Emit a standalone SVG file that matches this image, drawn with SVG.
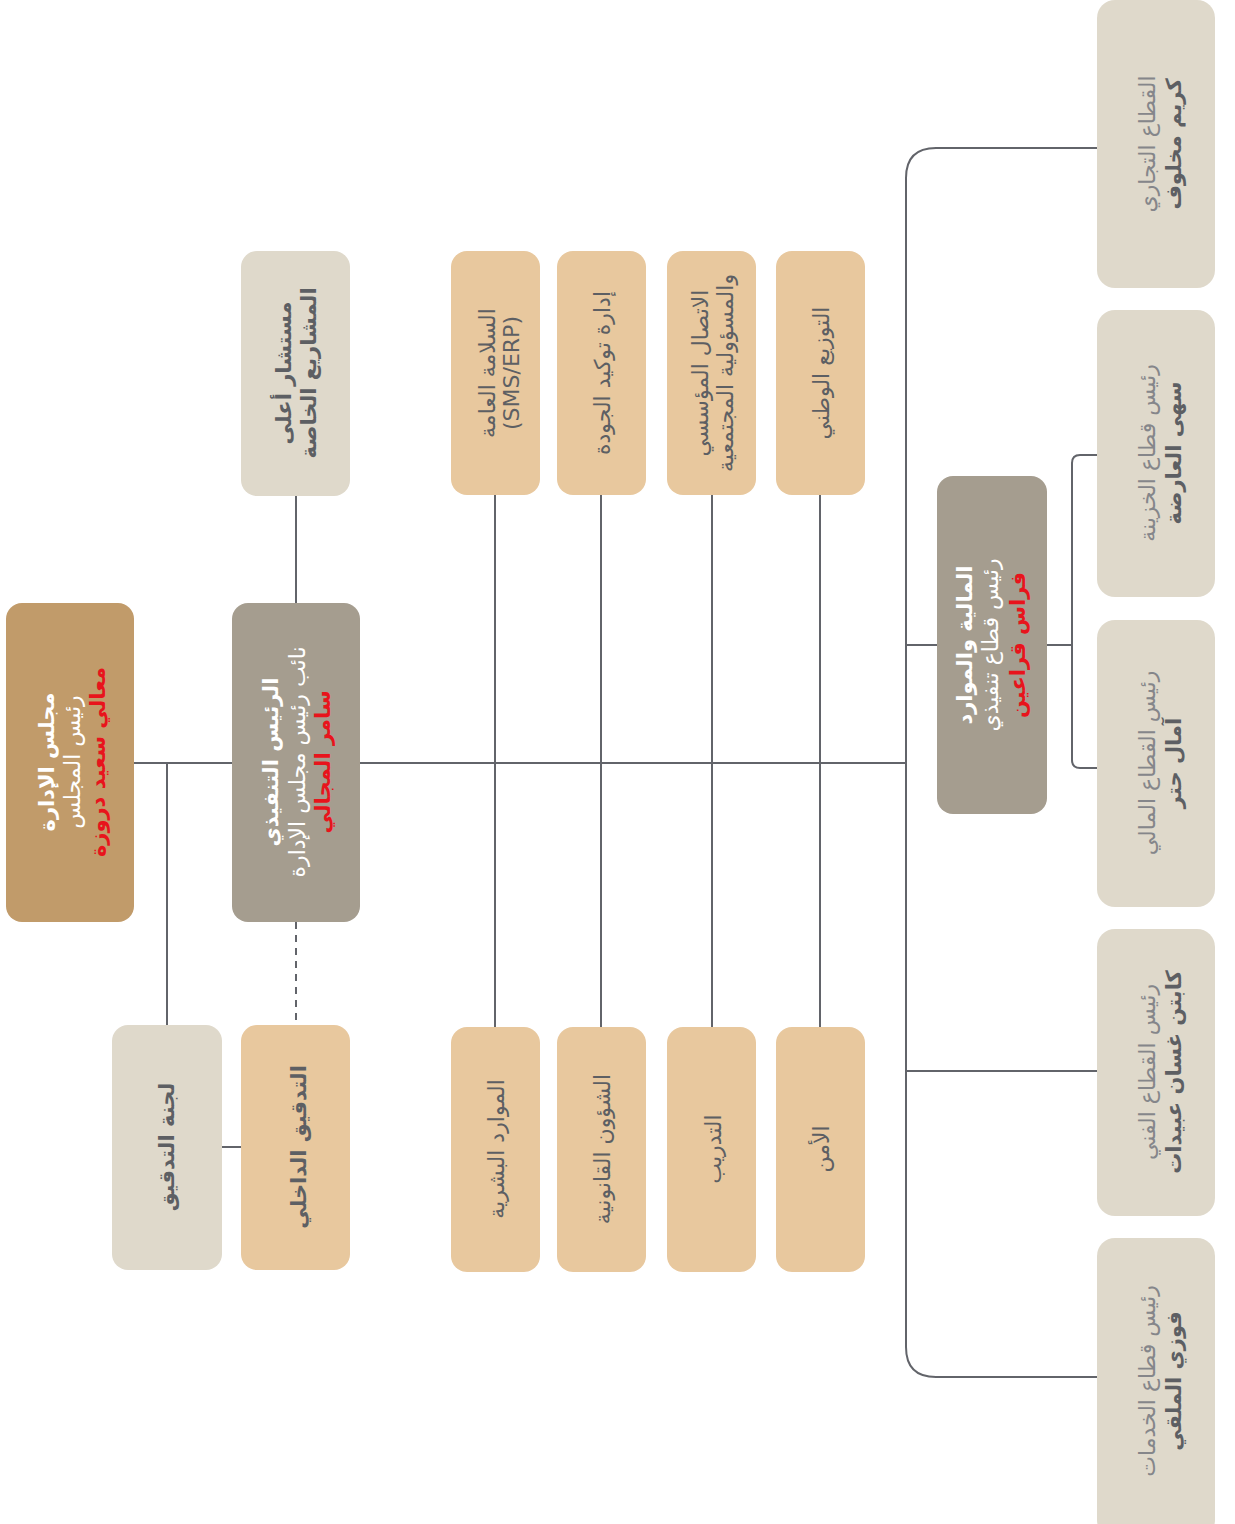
<svg xmlns="http://www.w3.org/2000/svg" width="1235" height="1524" viewBox="0 0 1235 1524">
<style>
.ln{fill:none;stroke:#62646a;stroke-width:2}
.dash{fill:none;stroke:#62646a;stroke-width:2;stroke-dasharray:7,6}
.board{fill:#c19b6a}
.exec{fill:#a59d8f}
.lite{fill:#dfd9cb}
.peach{fill:#e8c89e}
text{font-family:"DejaVu Sans","Noto Sans",sans-serif;text-anchor:middle}
.wb{fill:#ffffff;font-weight:bold;font-size:21px}
.wr{fill:#ffffff;font-size:22px}
.rb{fill:#e8141c;font-weight:bold;font-size:21px}
.gb{fill:#5d5f63;font-weight:bold;font-size:21px}
.gr{fill:#5d5f63;font-size:22px}
.lr{fill:#85868a;font-size:22px}
</style>
<rect width="1235" height="1524" fill="#ffffff"/>
<g id="connectors">
<path class="ln" d="M134,763 H906"/>
<path class="ln" d="M167,763 V1025"/>
<path class="ln" d="M222,1147 H241"/>
<path class="dash" d="M296,922 V1025"/>
<path class="ln" d="M296,496 V603"/>
<path class="ln" d="M495,495 V1027"/>
<path class="ln" d="M601,495 V1027"/>
<path class="ln" d="M712,495 V1027"/>
<path class="ln" d="M820,495 V1027"/>
<path class="ln" d="M1097,148 H936 Q906,148 906,178 V1347 Q906,1377 936,1377 H1097"/>
<path class="ln" d="M906,645 H1072"/>
<path class="ln" d="M1097,455 H1080 Q1072,455 1072,463 V760 Q1072,768 1080,768 H1097"/>
<path class="ln" d="M906,1071 H1097"/>
</g>
<g id="board">
<rect class="board" x="6" y="603" width="128" height="319" rx="16"/>
<g transform="translate(70,762) rotate(-90)">
<text class="wb" y="-16">مجلس الإدارة</text>
<text class="wr" y="10">رئيس المجلس</text>
<text class="rb" y="35">معالي سعيد دروزة</text>
</g>
</g>
<g id="ceo">
<rect class="exec" x="232" y="603" width="128" height="319" rx="16"/>
<g transform="translate(296,762) rotate(-90)">
<text class="wb" y="-18">الرئيس التنفيذي</text>
<text class="wr" y="9">نائب رئيس مجلس الإدارة</text>
<text class="rb" y="34">سامر المجالي</text>
</g>
</g>
<g id="advisor">
<rect class="lite" x="241" y="251" width="109" height="245" rx="16"/>
<g transform="translate(296,373) rotate(-90)">
<text class="gb" y="-5">مستشار أعلى</text>
<text class="gb" y="20">المشاريع الخاصة</text>
</g>
</g>
<g id="audit-committee">
<rect class="lite" x="112" y="1025" width="110" height="245" rx="16"/>
<g transform="translate(167,1147) rotate(-90)">
<text class="gb" y="7">لجنة التدقيق</text>
</g>
</g>
<g id="internal-audit">
<rect class="peach" x="241" y="1025" width="109" height="245" rx="16"/>
<g transform="translate(296,1147) rotate(-90)">
<text class="gb" y="10">التدقيق الداخلي</text>
</g>
</g>
<g id="safety">
<rect class="peach" x="451" y="251" width="89" height="244" rx="16"/>
<g transform="translate(495,373) rotate(-90)">
<text class="gr" y="0">السلامة العامة</text>
<text class="gr" y="24">(SMS/ERP)</text>
</g>
</g>
<g id="quality">
<rect class="peach" x="557" y="251" width="89" height="244" rx="16"/>
<g transform="translate(601,373) rotate(-90)">
<text class="gr" y="9">إدارة توكيد الجودة</text>
</g>
</g>
<g id="communication">
<rect class="peach" x="667" y="251" width="89" height="244" rx="16"/>
<g transform="translate(712,373) rotate(-90)">
<text class="gr" y="-4">الاتصال المؤسسي</text>
<text class="gr" y="21">والمسؤولية المجتمعية</text>
</g>
</g>
<g id="distribution">
<rect class="peach" x="776" y="251" width="89" height="244" rx="16"/>
<g transform="translate(820,373) rotate(-90)">
<text class="gr" y="9">التوزيع الوطني</text>
</g>
</g>
<g id="hr">
<rect class="peach" x="451" y="1027" width="89" height="245" rx="16"/>
<g transform="translate(495,1149) rotate(-90)">
<text class="gr" y="9">الموارد البشرية</text>
</g>
</g>
<g id="legal">
<rect class="peach" x="557" y="1027" width="89" height="245" rx="16"/>
<g transform="translate(601,1149) rotate(-90)">
<text class="gr" y="9">الشؤون القانونية</text>
</g>
</g>
<g id="training">
<rect class="peach" x="667" y="1027" width="89" height="245" rx="16"/>
<g transform="translate(712,1149) rotate(-90)">
<text class="gr" y="9">التدريب</text>
</g>
</g>
<g id="security">
<rect class="peach" x="776" y="1027" width="89" height="245" rx="16"/>
<g transform="translate(820,1149) rotate(-90)">
<text class="gr" y="9">الأمن</text>
</g>
</g>
<g id="cfo">
<rect class="exec" x="937" y="476" width="110" height="338" rx="16"/>
<g transform="translate(992,645) rotate(-90)">
<text class="wb" y="-20">المالية والموارد</text>
<text class="wr" y="6">رئيس قطاع تنفيذي</text>
<text class="rb" y="33">فراس قراعين</text>
</g>
</g>
<g id="commercial">
<rect class="lite" x="1097" y="0" width="118" height="288" rx="18"/>
<g transform="translate(1156,144) rotate(-90)">
<text class="lr" y="-1">القطاع التجاري</text>
<text class="gb" y="25">كريم مخلوف</text>
</g>
</g>
<g id="treasury">
<rect class="lite" x="1097" y="310" width="118" height="287" rx="18"/>
<g transform="translate(1156,453) rotate(-90)">
<text class="lr" y="-1">رئيس قطاع الخزينة</text>
<text class="gb" y="25">سهى العارضة</text>
</g>
</g>
<g id="finance">
<rect class="lite" x="1097" y="620" width="118" height="287" rx="18"/>
<g transform="translate(1156,763) rotate(-90)">
<text class="lr" y="-1">رئيس القطاع المالي</text>
<text class="gb" y="25">آمال حتر</text>
</g>
</g>
<g id="technical">
<rect class="lite" x="1097" y="929" width="118" height="287" rx="18"/>
<g transform="translate(1156,1072) rotate(-90)">
<text class="lr" y="-1">رئيس القطاع الفني</text>
<text class="gb" y="25">كابتن غسان عبيدات</text>
</g>
</g>
<g id="services">
<rect class="lite" x="1097" y="1238" width="118" height="300" rx="18"/>
<g transform="translate(1156,1381) rotate(-90)">
<text class="lr" y="-1">رئيس قطاع الخدمات</text>
<text class="gb" y="25">فوزي الملقي</text>
</g>
</g>
</svg>
